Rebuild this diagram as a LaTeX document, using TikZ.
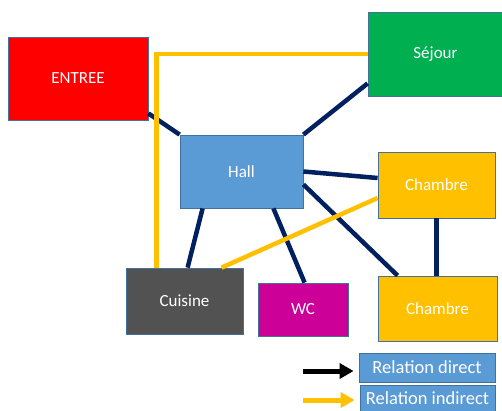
\documentclass[tikz,border=0pt]{standalone}
\usepackage{xcolor}
\usepackage{fontspec}
\setmainfont{Carlito}
\usetikzlibrary{arrows.meta,positioning,calc}

\definecolor{navy}{HTML}{002060}
\definecolor{jaune}{HTML}{FFC000}
\definecolor{bord}{HTML}{41719C}
\definecolor{bleu}{HTML}{5B9BD5}
\definecolor{vert}{HTML}{00B050}
\definecolor{gris}{HTML}{525252}
\definecolor{magenta}{HTML}{CC0099}

\begin{document}
\begin{tikzpicture}[x=1pt,y=-1pt,
		room/.style={rectangle,draw=bord,line width=0.8pt,text=white,inner sep=0pt,
			font=\fontsize{17}{20}\selectfont},
		legbox/.style={room,fill=bleu,font=\fontsize{18.5}{20}\selectfont},
		direct/.style={navy,line width=4.5pt},
		indirect/.style={jaune,line width=4.5pt},
		legarrow/.style={line width=5pt,-{Triangle[length=14pt,width=15pt]}}]
				\useasboundingbox (0,0) rectangle (502,410);

				% Pieces
				\node[room,fill=red,minimum width=140,minimum height=83] (entree) at (78,78.5) {ENTREE};
				\node[room,fill=vert,minimum width=135,minimum height=84] (sejour) at (435.5,54) {Séjour};
				\node[room,fill=bleu,minimum width=123,minimum height=73] (hall) at (241.5,171.5) {Hall};
				\node[room,fill=jaune,minimum width=117,minimum height=66] (ch1) at (436.5,185) {Chambre};
				\node[room,fill=gris,minimum width=117,minimum height=66] (cuisine) at (184.5,301) {Cuisine};
				\node[room,fill=magenta,minimum width=90,minimum height=53] (wc) at (303,309.5) {WC};
				\node[room,fill=jaune,minimum width=119,minimum height=65] (ch2) at (437.5,308.5) {Chambre};

				% Relations directes
				\draw[direct] ([yshift=7pt]entree.south east) -- (hall.north west);
				\draw[direct] (hall.north east) -- ([yshift=13pt]sejour.south west);
				\draw[direct] (hall.east) -- ([yshift=7pt]ch1.west);
				\draw[direct] ([yshift=-13pt]hall.east) -- ([xshift=20pt]ch2.north west);
				\draw[direct] ([xshift=23pt]hall.south west) -- ([xshift=62pt]cuisine.north west);
				\draw[direct] ([xshift=-30pt]hall.south east) -- ([xshift=47pt]wc.north west);
				\draw[direct] (ch1.south) -- (ch1.south |- ch2.north);

				% Relations indirectes
				\draw[indirect] ([xshift=31pt]cuisine.north west) |- (sejour.west);
				\draw[indirect] ([xshift=96pt]cuisine.north west) -- ([yshift=-13pt]ch1.west);

				% Legende
				\node[legbox,minimum width=136,minimum height=29] (leg1) at (427,367.5) {Relation direct};
				\node[legbox,minimum width=135,minimum height=27] (leg2) at (427.5,398.5) {Relation indirect};
				\coordinate (d0) at (303,371);
				\coordinate (i0) at (303,400);
				\coordinate (d1) at ([xshift=-5pt]leg1.west);
				\coordinate (i1) at ([xshift=-5pt]leg2.west);
				\draw[legarrow,black] (d0) -- (d0 -| d1);
				\draw[legarrow,jaune] (i0) -- (i0 -| i1);
			\end{tikzpicture}
\end{document}
